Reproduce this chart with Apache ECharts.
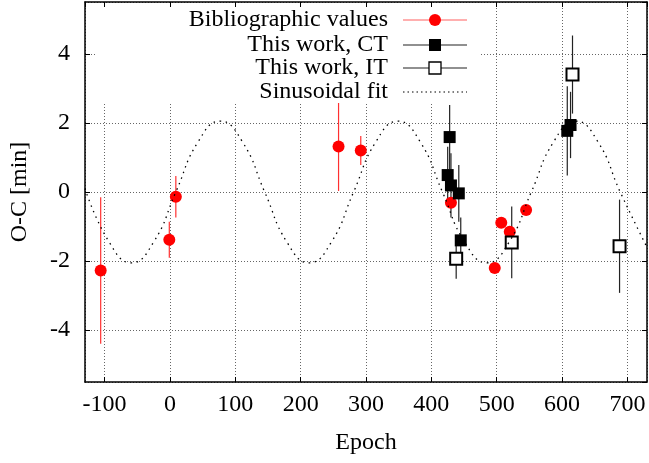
<!DOCTYPE html>
<html>
<head>
<meta charset="utf-8">
<script src="https://cdn.jsdelivr.net/npm/echarts@6/dist/echarts.min.js"></script>
<style>
  html, body { margin: 0; padding: 0; background: #fff; }
  #chart { width: 649px; height: 463px; }
</style>
</head>
<body>
<div id="chart"></div>
<script>
// Bibliographic values (red circles)
var bibEpoch = [-106, -1, 9, 258, 292, 430, 497, 507, 520, 545];
var bibOC = [-2.27, -1.38, -0.14, 1.32, 1.20, -0.31, -2.20, -0.89, -1.15, -0.52];
var bibErr = [2.12, 0.52, 0.60, 1.29, 0.42, 0.15, 0.10, 0.10, 0.10, 0.10];

// This work, CT (filled squares)
var ctEpoch = [428, 425, 430, 442, 445, 608, 613];
var ctOC = [1.59, 0.49, 0.19, -0.04, -1.40, 1.77, 1.94];
var ctErr = [0.93, 0.82, 0.93, 0.82, 0.66, 1.29, 0.96];

// This work, IT (open squares)
var itEpoch = [438, 523, 616, 688];
var itOC = [-1.93, -1.46, 3.40, -1.57];
var itErr = [0.58, 1.04, 1.13, 1.35];

// Sinusoidal fit, points
var fitEpoch = [-130, -93, -59, -25, 9, 43, 77, 111, 145, 179, 213, 247, 281, 315, 349, 383, 417, 451, 485, 519, 553, 587, 621, 655, 689, 730];
var fitOC = [0.1, -1.45, -2.05, -1.45, 0, 1.45, 2.05, 1.45, 0, -1.45, -2.05, -1.45, 0, 1.45, 2.05, 1.45, 0, -1.45, -2.05, -1.45, 0, 1.45, 2.05, 1.45, 0, -1.6];

var legendNames = ['Bibliographic values', 'This work, CT', 'This work, IT', 'Sinusoidal fit'];

var FONT = '"Liberation Serif", "DejaVu Serif", serif';
var FS = 24;

function pairs(xs, ys) {
  var out = [];
  for (var i = 0; i < xs.length; i++) out.push([xs[i], ys[i]]);
  return out;
}

function errRows(xs, ys, es) {
  var out = [];
  for (var i = 0; i < xs.length; i++) out.push([xs[i], ys[i] - es[i], ys[i] + es[i]]);
  return out;
}

// vertical error bars drawn through the axes
function errorBars(name, xs, ys, es, color) {
  return {
    name: name,
    type: 'custom',
    z: 2,
    silent: true,
    encode: { x: 0, y: [1, 2] },
    data: errRows(xs, ys, es),
    renderItem: function (params, api) {
      var lo = api.coord([api.value(0), api.value(1)]);
      var hi = api.coord([api.value(0), api.value(2)]);
      return {
        type: 'line',
        shape: { x1: lo[0], y1: lo[1], x2: hi[0], y2: hi[1] },
        style: { stroke: color, lineWidth: 1.2 }
      };
    }
  };
}

var chart = echarts.init(document.getElementById('chart'), null, { renderer: 'canvas' });

var axisCommon = {
  type: 'value',
  axisLine: { show: true, onZero: false, lineStyle: { color: '#000', width: 1.5 } },
  axisTick: { show: true, inside: true, length: 5, lineStyle: { color: '#000', width: 1 } },
  axisLabel: { color: '#000', fontFamily: FONT, fontSize: FS, showMinLabel: false, showMaxLabel: false },
  splitLine: { show: false },
  minorTick: { show: false }
};

// legend box drawn like gnuplot's key: text right-aligned, samples on the right
var rowY = [20, 45, 68, 92];
var textRight = 388, sx1 = 403, sx2 = 467, smx = 435;
var legendEls = [
  { type: 'rect', z: 3, shape: { x: 97, y: 3, width: 383, height: 100 }, style: { fill: '#fff' } }
];
for (var k = 0; k < legendNames.length; k++) {
  legendEls.push({
    type: 'text', z: 4, x: textRight, y: rowY[k],
    style: { text: legendNames[k], fill: '#000', font: FS + 'px ' + FONT, align: 'right', verticalAlign: 'middle' }
  });
}
legendEls.push(
  { type: 'line', z: 4, shape: { x1: sx1, y1: rowY[0], x2: sx2, y2: rowY[0] }, style: { stroke: '#ff6060', lineWidth: 1.2 } },
  { type: 'circle', z: 5, shape: { cx: smx, cy: rowY[0], r: 6 }, style: { fill: '#ff0000' } },
  { type: 'line', z: 4, shape: { x1: sx1, y1: rowY[1], x2: sx2, y2: rowY[1] }, style: { stroke: '#222', lineWidth: 1.2 } },
  { type: 'rect', z: 5, shape: { x: smx - 6, y: rowY[1] - 6, width: 12, height: 12 }, style: { fill: '#000' } },
  { type: 'line', z: 4, shape: { x1: sx1, y1: rowY[2], x2: sx2, y2: rowY[2] }, style: { stroke: '#222', lineWidth: 1.2 } },
  { type: 'rect', z: 5, shape: { x: smx - 6, y: rowY[2] - 6, width: 12, height: 12 }, style: { fill: '#fff', stroke: '#000', lineWidth: 1.3 } },
  { type: 'line', z: 4, shape: { x1: sx1, y1: rowY[3], x2: sx2, y2: rowY[3] }, style: { stroke: '#000', lineWidth: 1.2, lineDash: [1.5, 3] } }
);

var option = {
  backgroundColor: '#fff',
  animation: false,
  grid: { left: 85, right: 2, top: 2, bottom: 81, containLabel: false },
  xAxis: [
    Object.assign({}, axisCommon, {
      min: -130, max: 730, splitNumber: 9,
      name: 'Epoch', nameLocation: 'middle', nameGap: 49,
      nameTextStyle: { color: '#000', fontFamily: FONT, fontSize: FS },
      axisLabel: Object.assign({}, axisCommon.axisLabel, { margin: 11 }),
      splitLine: { show: true, lineStyle: { color: '#666', width: 1, type: [1, 2] } }
    }),
    Object.assign({}, axisCommon, {
      position: 'top', min: -130, max: 730, splitNumber: 9, z: 10,
      axisLabel: { show: false }
    })
  ],
  yAxis: [
    Object.assign({}, axisCommon, {
      min: -5.5, max: 5.5, splitNumber: 5,
      name: 'O-C [min]', nameLocation: 'middle', nameGap: 53,
      nameTextStyle: { color: '#000', fontFamily: FONT, fontSize: FS },
      axisLabel: Object.assign({}, axisCommon.axisLabel, { margin: 15 }),
      splitLine: { show: true, lineStyle: { color: '#666', width: 1, type: [1, 2] } }
    }),
    Object.assign({}, axisCommon, {
      position: 'right', min: -5.5, max: 5.5, splitNumber: 5, z: 10,
      axisLabel: { show: false }
    })
  ],
  graphic: legendEls,
  series: [
    errorBars('Bibliographic values', bibEpoch, bibOC, bibErr, '#ff3030'),
    {
      name: 'Bibliographic values', type: 'scatter', z: 3,
      symbol: 'circle', symbolSize: 12,
      itemStyle: { color: '#ff0000', opacity: 1 },
      data: pairs(bibEpoch, bibOC)
    },
    errorBars('This work, CT', ctEpoch, ctOC, ctErr, '#222'),
    {
      name: 'This work, CT', type: 'scatter', z: 3,
      symbol: 'rect', symbolSize: 12,
      itemStyle: { color: '#000', opacity: 1 },
      data: pairs(ctEpoch, ctOC)
    },
    errorBars('This work, IT', itEpoch, itOC, itErr, '#222'),
    {
      name: 'This work, IT', type: 'scatter', z: 3,
      symbol: 'emptyRect', symbolSize: 12,
      itemStyle: { color: '#000', borderColor: '#000', borderWidth: 1.3, opacity: 1 },
      data: pairs(itEpoch, itOC)
    },
    {
      name: 'Sinusoidal fit', type: 'line', z: 4,
      smooth: 0.5, showSymbol: false, symbol: 'none', silent: true,
      lineStyle: { color: '#000', width: 1.3, type: [1.5, 4.5] },
      data: pairs(fitEpoch, fitOC)
    }
  ]
};

chart.setOption(option);
</script>
</body>
</html>
